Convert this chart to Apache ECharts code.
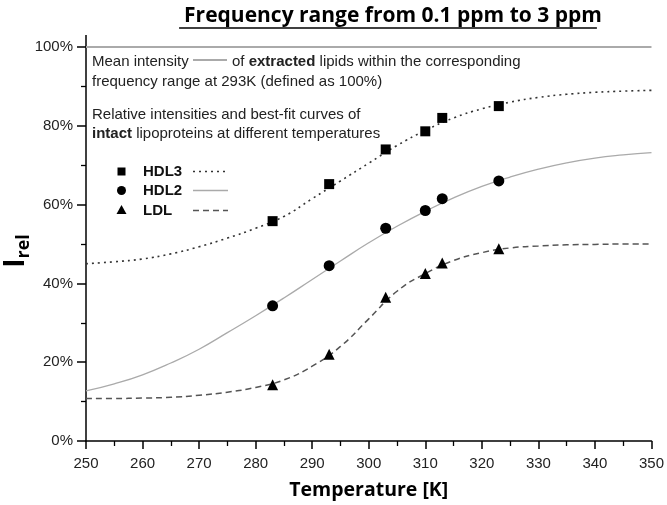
<!DOCTYPE html>
<html><head><meta charset="utf-8">
<script src="https://cdn.jsdelivr.net/npm/echarts@6/dist/echarts.min.js"></script>
<style>html,body{margin:0;padding:0;background:#fff}#c{width:667px;height:505px}</style>
</head><body><div id="c"></div>
<script>
// measured data points
const temps = [283, 293, 303, 310, 313, 323];
const hdl3 = [55.8, 65.2, 74.0, 78.6, 82.0, 85.0];
const hdl2 = [34.3, 44.5, 54.0, 58.5, 61.5, 66.0];
const ldl  = [14.3, 22.0, 36.5, 42.5, 45.2, 48.8];
// best-fit curves
const fitT    = [250,255,260,265,270,275,280,285,290,295,300,305,310,315,320,325,330,335,340,345,350];
const fitHDL3 = [45.0,45.5,46.2,47.5,49.3,51.5,54.0,57.0,61.5,66.0,70.5,75.0,78.8,82.0,84.3,86.0,87.2,88.0,88.5,88.8,89.0];
const fitHDL2 = [12.7,14.5,16.8,19.8,23.3,27.5,31.8,36.3,41.0,45.7,50.3,54.5,58.3,61.7,64.6,67.0,69.0,70.6,71.8,72.6,73.2];
const fitLDL  = [10.8,10.8,10.9,11.1,11.6,12.4,13.6,15.5,19.0,24.0,31.0,38.0,42.5,45.8,47.8,49.0,49.5,49.8,49.9,50.0,50.0];
const refLevel = 100;
const xTicks = [250, 350, 10];
const yTicks = [0, 100, 20];
const titleText = 'Frequency range from 0.1 ppm to 3 ppm';

const pair = (xs, ys) => xs.map((x, i) => [x, ys[i]]);
const chart = echarts.init(document.getElementById('c'));
const AR = '"Liberation Sans", Arial, sans-serif';
const TF = '"Open Sans", sans-serif';
const GL = 86, GR = 652, GT = 47, GB = 443;
const titleFont = 'bold 21px "Open Sans", sans-serif';
const ctx = document.createElement('canvas').getContext('2d');
ctx.font = titleFont;
const tw = ctx.measureText(titleText).width;
const TCX = 388;

chart.setOption({
  animation: false,
  grid: {left: GL, right: 667 - GR, top: GT, bottom: 505 - GB},
  title: {
    text: titleText,
    left: TCX, top: 1, textAlign: 'center',
    textStyle: {fontFamily: TF, fontWeight: 'bold', fontSize: 21, color: '#000'}
  },
  xAxis: {
    type: 'value', min: xTicks[0], max: xTicks[1], interval: xTicks[2],
    axisLine: {lineStyle: {color: '#000', width: 1.5}},
    axisTick: {show: true, length: 8, lineStyle: {color: '#000', width: 1.5}},
    minorTick: {show: true, splitNumber: 2, length: 5, lineStyle: {color: '#000', width: 1.3}},
    splitLine: {show: false},
    axisLabel: {fontFamily: AR, fontSize: 15, color: '#222', margin: 15},
    name: 'Temperature [K]', nameLocation: 'middle', nameGap: 39,
    nameTextStyle: {fontFamily: TF, fontWeight: 'bold', fontSize: 19.5, color: '#000'}
  },
  yAxis: {
    type: 'value', min: yTicks[0], max: yTicks[1], interval: yTicks[2],
    axisLine: {show: true, lineStyle: {color: '#000', width: 1.5}},
    axisTick: {show: true, length: 9, lineStyle: {color: '#000', width: 1.5}},
    minorTick: {show: true, splitNumber: 2, length: 5, lineStyle: {color: '#000', width: 1.3}},
    splitLine: {show: false},
    axisLabel: {fontFamily: AR, fontSize: 15, color: '#222', margin: 13, formatter: '{value}%'}
  },
  series: [
    {type: 'line', data: [[xTicks[0], refLevel], [xTicks[1], refLevel]], symbol: 'none',
     lineStyle: {color: '#aaa', width: 2}, z: 1},
    {type: 'line', data: pair(fitT, fitHDL3), symbol: 'none', smooth: true,
     lineStyle: {color: '#333', width: 1.6, type: [2, 4]}},
    {type: 'line', data: pair(fitT, fitHDL2), symbol: 'none', smooth: true,
     lineStyle: {color: '#aaa', width: 1.3}},
    {type: 'line', data: pair(fitT, fitLDL), symbol: 'none', smooth: true,
     lineStyle: {color: '#555', width: 1.5, type: [6, 4]}},
    {type: 'scatter', data: pair(temps, hdl3), symbol: 'rect', symbolSize: 10,
     itemStyle: {color: '#000', opacity: 1}, z: 5},
    {type: 'scatter', data: pair(temps, hdl2), symbol: 'circle', symbolSize: 11,
     itemStyle: {color: '#000', opacity: 1}, z: 5},
    {type: 'scatter', data: pair(temps, ldl), symbol: 'triangle', symbolSize: 11,
     itemStyle: {color: '#000', opacity: 1}, z: 5}
  ],
  graphic: [
    // axis line extension above 100%
    {type: 'line', shape: {x1: GL, y1: 35, x2: GL, y2: GT}, style: {stroke: '#000', lineWidth: 1.5}},
    // title underline
    {type: 'line', shape: {x1: TCX - tw / 2, y1: 28, x2: TCX + tw / 2, y2: 28}, style: {stroke: '#000', lineWidth: 1.6}},
    // y axis title
    {type: 'text', x: 16, y: 251, rotation: Math.PI / 2, style: {
      text: '{i|I}{s|rel}', align: 'center', verticalAlign: 'middle',
      rich: {
        i: {fontFamily: TF, fontWeight: 'bold', fontSize: 28, fill: '#000'},
        s: {fontFamily: TF, fontWeight: 'bold', fontSize: 18, fill: '#000', padding: [15, 0, 0, 0]}
      }
    }},
    // annotation text
    {type: 'text', left: 92, top: 54, style: {text: 'Mean intensity', font: '15px ' + AR, fill: '#222'}},
    {type: 'line', shape: {x1: 193, y1: 60, x2: 227, y2: 60}, style: {stroke: '#aaa', lineWidth: 2}},
    {type: 'text', left: 232, top: 54, style: {
      text: '{n|of }{b|extracted}{n| lipids within the corresponding}',
      rich: {n: {fontFamily: AR, fontSize: 15, fill: '#222'}, b: {fontFamily: AR, fontSize: 15, fontWeight: 'bold', fill: '#222'}}
    }},
    {type: 'text', left: 92, top: 74, style: {text: 'frequency range at 293K (defined as 100%)', font: '15px ' + AR, fill: '#222'}},
    {type: 'text', left: 92, top: 107, style: {text: 'Relative intensities and best-fit curves of', font: '15px ' + AR, fill: '#222'}},
    {type: 'text', left: 92, top: 126, style: {
      text: '{b|intact}{n| lipoproteins at different temperatures}',
      rich: {n: {fontFamily: AR, fontSize: 15, fill: '#222'}, b: {fontFamily: AR, fontSize: 15, fontWeight: 'bold', fill: '#222'}}
    }},
    // legend
    {type: 'rect', shape: {x: 117.5, y: 167.5, width: 8, height: 8}, style: {fill: '#000'}},
    {type: 'circle', shape: {cx: 121.5, cy: 190.5, r: 4.5}, style: {fill: '#000'}},
    {type: 'polygon', shape: {points: [[121.5, 205], [126.5, 214], [116.5, 214]]}, style: {fill: '#000'}},
    {type: 'text', left: 143, top: 164, style: {text: 'HDL3', font: 'bold 15px ' + AR, fill: '#111'}},
    {type: 'text', left: 143, top: 183, style: {text: 'HDL2', font: 'bold 15px ' + AR, fill: '#111'}},
    {type: 'text', left: 143, top: 203, style: {text: 'LDL', font: 'bold 15px ' + AR, fill: '#111'}},
    {type: 'line', shape: {x1: 193, y1: 171.5, x2: 228, y2: 171.5}, style: {stroke: '#333', lineWidth: 1.5, lineDash: [2, 4]}},
    {type: 'line', shape: {x1: 193, y1: 190.5, x2: 228, y2: 190.5}, style: {stroke: '#aaa', lineWidth: 1.3}},
    {type: 'line', shape: {x1: 193, y1: 210.5, x2: 228, y2: 210.5}, style: {stroke: '#555', lineWidth: 1.5, lineDash: [6, 4]}}
  ]
});
</script>
</body></html>
